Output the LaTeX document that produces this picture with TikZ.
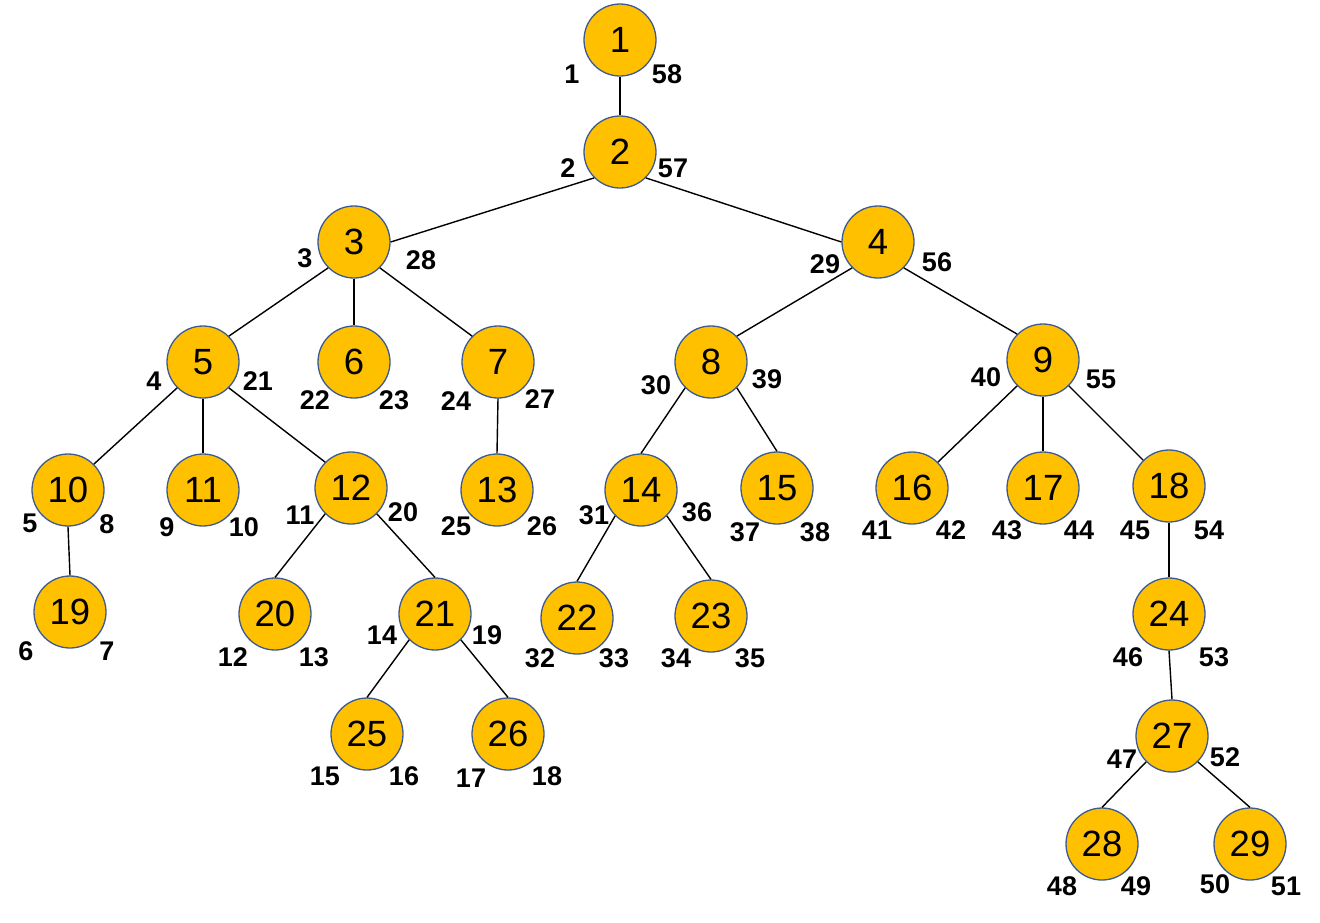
\documentclass[tikz,border=0pt]{standalone}
\usepackage{fontspec}
\setmainfont{Liberation Sans}
\definecolor{nodefill}{HTML}{FFC000}
\definecolor{nodeline}{HTML}{3C5A93}
\begin{document}
\begin{tikzpicture}[x=1pt,y=-1pt,
  tn/.style={circle,fill=nodefill,draw=nodeline,line width=1.3pt,minimum size=72pt,inner sep=0pt,font=\fontsize{36.5}{38}\selectfont},
  lb/.style={font=\fontsize{27}{29}\selectfont\bfseries,inner sep=0pt},
  edge/.style={line width=1.4pt,black}]
\useasboundingbox (0,0) rectangle (1320,922);
\foreach \n/\x/\y in {1/620/40,2/620/152,3/354/242,4/878/242,5/203/362,6/354/362,7/498/362,8/711/362,9/1043/360,10/68/490,11/203/490,12/351/488,13/497/490,14/641/490,15/777/488,16/912/488,17/1043/488,18/1169/486,19/70/612,20/275/614,21/435/614,22/577/618,23/711/616,24/1169/614,25/367/734,26/508/734,27/1172/736,28/1102/844,29/1250/844}
  \node[tn] (n\n) at (\x,\y) {\n};
\foreach \a/\pa/\b/\pb in {1/south/2/north,
  2/south west/3/east, 2/south east/4/west,
  3/south west/5/north east, 3/south/6/north, 3/south east/7/north west,
  4/south west/8/north east, 4/south east/9/north west,
  5/south west/10/north east, 5/south/11/north, 5/south east/12/north west,
  7/south/13/north,
  8/south west/14/north, 8/south east/15/north,
  9/south west/16/north east, 9/south/17/north, 9/south east/18/north west,
  10/south/19/north,
  12/south west/20/north, 12/south east/21/north,
  14/south west/22/north, 14/south east/23/north,
  18/south/24/north, 24/south/27/north,
  21/south west/25/north, 21/south east/26/north,
  27/south west/28/north, 27/south east/29/north}
  \draw[edge] (n\a.\pa) -- (n\b.\pb);
% labels
\foreach \t/\x/\y in {1/572/74,58/667/74,2/568/168,57/673/168,3/305/258,28/421/260,29/825/264,56/937/262,4/154/381,21/258/381,22/315/400,23/394/400,24/456/401,27/540/399,30/656/385,39/767/379,40/986/377,55/1101/379,5/30/523,8/107/524,9/167/527,10/244/527,11/300/515,20/403/512,25/456/526,26/542/526,31/594/515,36/697/512,37/745/532,38/815/532,41/877/530,42/951/530,43/1007/530,44/1079/530,45/1135/530,54/1209/530,6/26/651,7/107/651,12/233/657,13/314/657,14/382/635,19/487/635,32/540/658,33/614/658,34/676/658,35/750/658,46/1128/657,53/1214/657,15/325/776,16/404/776,17/471/778,18/547/776,47/1122/759,52/1225/757,48/1062/886,49/1136/886,50/1215/884,51/1286/886}
  \node[lb] (l\t) at (\x,\y) {\t};
\end{tikzpicture}
\end{document}
